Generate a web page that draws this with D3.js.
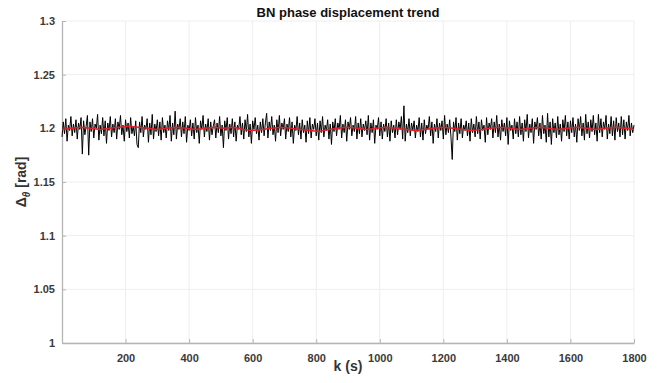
<!DOCTYPE html>
<html>
<head>
<meta charset="utf-8">
<script src="https://cdn.jsdelivr.net/npm/d3@7"></script>
<style>
  body { margin: 0; background: #fff; }
  svg text { font-family: "Liberation Sans", Arial, sans-serif; }
</style>
</head>
<body>
<svg id="chart"></svg>
<script>
(function() {

// sample times (s) for the measured phase displacement
const kMeasured = d3.range(0, 1801, 4);
const phaseMeasured = [
  1.192,1.206,1.195,1.209,1.188,1.203,1.198,1.211,1.193,1.204,1.196,1.208,1.190,1.205,1.199,1.210,1.176,1.207,1.194,1.202,
  1.212,1.175,1.206,1.197,1.209,1.191,1.204,1.200,1.213,1.189,1.203,1.195,1.210,1.193,1.207,1.186,1.205,1.198,1.211,1.192,
  1.204,1.196,1.209,1.190,1.206,1.199,1.212,1.194,1.203,1.188,1.208,1.197,1.205,1.191,1.210,1.195,1.202,1.193,1.207,1.185,
  1.182,1.206,1.196,1.211,1.192,1.203,1.199,1.209,1.187,1.205,1.194,1.213,1.190,1.204,1.197,1.208,1.193,1.206,1.189,1.210,
  1.196,1.203,1.191,1.207,1.198,1.212,1.188,1.205,1.194,1.216,1.190,1.204,1.199,1.209,1.192,1.206,1.195,1.211,1.187,1.203,
  1.198,1.208,1.193,1.205,1.190,1.210,1.196,1.203,1.186,1.207,1.199,1.212,1.192,1.204,1.197,1.209,1.189,1.206,1.194,1.202,
  1.208,1.191,1.205,1.196,1.211,1.193,1.203,1.182,1.207,1.198,1.210,1.190,1.204,1.195,1.209,1.192,1.206,1.188,1.203,1.199,
  1.211,1.194,1.205,1.190,1.208,1.197,1.213,1.192,1.204,1.186,1.207,1.199,1.210,1.195,1.203,1.189,1.206,1.196,1.209,1.193,
  1.205,1.214,1.191,1.206,1.198,1.211,1.194,1.203,1.188,1.208,1.196,1.212,1.193,1.205,1.199,1.209,1.190,1.204,1.197,1.210,
  1.192,1.206,1.186,1.203,1.198,1.211,1.194,1.205,1.190,1.208,1.196,1.203,1.187,1.207,1.195,1.210,1.191,1.204,1.199,1.209,
  1.193,1.205,1.189,1.207,1.196,1.211,1.192,1.203,1.198,1.208,1.190,1.204,1.185,1.206,1.197,1.209,1.193,1.205,1.199,1.212,
  1.191,1.204,1.196,1.208,1.188,1.206,1.199,1.210,1.193,1.203,1.197,1.211,1.190,1.205,1.195,1.209,1.192,1.204,1.198,1.207,
  1.194,1.212,1.189,1.205,1.196,1.208,1.186,1.203,1.199,1.210,1.193,1.206,1.190,1.204,1.197,1.209,1.192,1.205,1.188,1.207,
  1.196,1.203,1.191,1.208,1.194,1.206,1.199,1.211,1.190,1.221,1.188,1.204,1.196,1.209,1.193,1.205,1.198,1.207,1.191,1.203,
  1.197,1.210,1.192,1.205,1.189,1.208,1.195,1.203,1.199,1.211,1.193,1.206,1.186,1.204,1.197,1.209,1.191,1.205,1.198,1.207,
  1.190,1.212,1.194,1.204,1.196,1.208,1.192,1.171,1.206,1.197,1.210,1.189,1.205,1.195,1.209,1.191,1.203,1.198,1.207,1.193,
  1.205,1.188,1.209,1.196,1.204,1.192,1.211,1.195,1.206,1.190,1.208,1.198,1.203,1.187,1.210,1.194,1.205,1.199,1.209,1.191,
  1.206,1.196,1.212,1.192,1.204,1.189,1.208,1.197,1.205,1.193,1.210,1.185,1.207,1.198,1.203,1.190,1.209,1.195,1.206,1.192,
  1.211,1.194,1.205,1.188,1.208,1.197,1.213,1.191,1.204,1.196,1.209,1.186,1.206,1.199,1.210,1.193,1.205,1.190,1.212,1.195,
  1.203,1.187,1.214,1.192,1.206,1.185,1.209,1.196,1.205,1.191,1.211,1.194,1.204,1.188,1.208,1.197,1.212,1.193,1.206,1.190,
  1.207,1.196,1.210,1.192,1.204,1.187,1.209,1.198,1.211,1.193,1.205,1.189,1.213,1.195,1.206,1.191,1.208,1.197,1.212,1.194,
  1.205,1.188,1.213,1.196,1.209,1.192,1.206,1.199,1.212,1.190,1.204,1.195,1.211,1.193,1.207,1.189,1.210,1.197,1.205,1.192,
  1.211,1.194,1.208,1.190,1.206,1.198,1.212,1.193,1.205,1.196,1.203
];

// sample times (s) for the trend line
const kTrend = d3.range(0, 1801, 30);
// trend of the phase displacement [rad]
const phaseTrend = [
  1.199,1.200,1.201,1.200,1.199,1.200,1.201,1.202,1.201,1.200,
  1.199,1.200,1.201,1.200,1.199,1.200,1.201,1.200,1.201,1.199,
  1.198,1.199,1.200,1.201,1.200,1.199,1.198,1.197,1.199,1.200,
  1.201,1.200,1.199,1.200,1.201,1.200,1.199,1.198,1.199,1.200,
  1.201,1.200,1.199,1.198,1.199,1.200,1.201,1.200,1.199,1.200,
  1.201,1.200,1.199,1.200,1.201,1.200,1.199,1.200,1.201,1.200,
  1.199
];

const xTicks = [200, 400, 600, 800, 1000, 1200, 1400, 1600, 1800];
const yTicks = [1, 1.05, 1.1, 1.15, 1.2, 1.25, 1.3];

const W = 660, H = 383;
const margin = { top: 21, right: 26, bottom: 40, left: 62 };
const width = W - margin.left - margin.right;
const height = H - margin.top - margin.bottom;

const svg = d3.select("#chart").attr("width", W).attr("height", H);
const g = svg.append("g").attr("transform", `translate(${margin.left},${margin.top})`);

const x = d3.scaleLinear().domain([0, 1800]).range([0, width]);
const y = d3.scaleLinear().domain([1, 1.3]).range([height, 0]);

// grid
g.append("g").selectAll("line")
    .data(xTicks)
    .enter().append("line")
    .attr("x1", d => x(d)).attr("x2", d => x(d))
    .attr("y1", 0).attr("y2", height)
    .attr("stroke", "#eeeeee").attr("stroke-width", 1);

g.append("g").selectAll("line")
    .data(yTicks)
    .enter().append("line")
    .attr("x1", 0).attr("x2", width)
    .attr("y1", d => y(d)).attr("y2", d => y(d))
    .attr("stroke", "#eeeeee").attr("stroke-width", 1);

// axes (MATLAB style, ticks pointing inward)
const xAxis = g.append("g")
    .attr("transform", `translate(0,${height})`)
    .call(d3.axisBottom(x).tickValues(xTicks).tickFormat(d3.format("d"))
        .tickSizeInner(-4).tickSizeOuter(0).tickPadding(11));

const yAxis = g.append("g")
    .call(d3.axisLeft(y).tickValues(yTicks).tickFormat(d3.format("~g"))
        .tickSizeInner(-4).tickSizeOuter(0).tickPadding(7));

[xAxis, yAxis].forEach(a => {
    a.select(".domain").attr("stroke", "#b5b5b5").attr("stroke-width", 1.3);
    a.selectAll(".tick line").attr("stroke", "#b5b5b5");
    a.selectAll(".tick text")
        .attr("fill", "#3a3a3a")
        .attr("font-size", 11)
        .attr("font-weight", "bold");
});

// measured series
const line = d3.line()
    .x(d => x(d[0]))
    .y(d => y(d[1]));

g.append("path")
    .datum(kMeasured.map((k, i) => [k, phaseMeasured[i]]).filter(d => d[1] !== undefined))
    .attr("d", line)
    .attr("fill", "none")
    .attr("stroke", "#000")
    .attr("stroke-width", 1);

g.append("path")
    .datum(kTrend.map((k, i) => [k, phaseTrend[i]]).filter(d => d[1] !== undefined))
    .attr("d", line)
    .attr("fill", "none")
    .attr("stroke", "#e0202a")
    .attr("stroke-width", 1.5);

// title and labels
svg.append("text")
    .attr("x", margin.left + width / 2)
    .attr("y", 17)
    .attr("text-anchor", "middle")
    .attr("font-size", 13)
    .attr("font-weight", "bold")
    .attr("fill", "#111")
    .text("BN phase displacement trend");

svg.append("text")
    .attr("x", margin.left + width / 2)
    .attr("y", 371)
    .attr("text-anchor", "middle")
    .attr("font-size", 14)
    .attr("font-weight", "bold")
    .attr("fill", "#333")
    .text("k (s)");

const yLabel = svg.append("text")
    .attr("transform", `translate(26,${margin.top + height / 2}) rotate(-90)`)
    .attr("text-anchor", "middle")
    .attr("font-size", 14)
    .attr("font-weight", "bold")
    .attr("fill", "#333");
yLabel.append("tspan").text("\u0394");
yLabel.append("tspan").attr("dy", 4).attr("font-size", 10).attr("font-style", "italic").text("\u03B8");
yLabel.append("tspan").attr("dy", -4).text(" [rad]");

})();
</script>
</body>
</html>
